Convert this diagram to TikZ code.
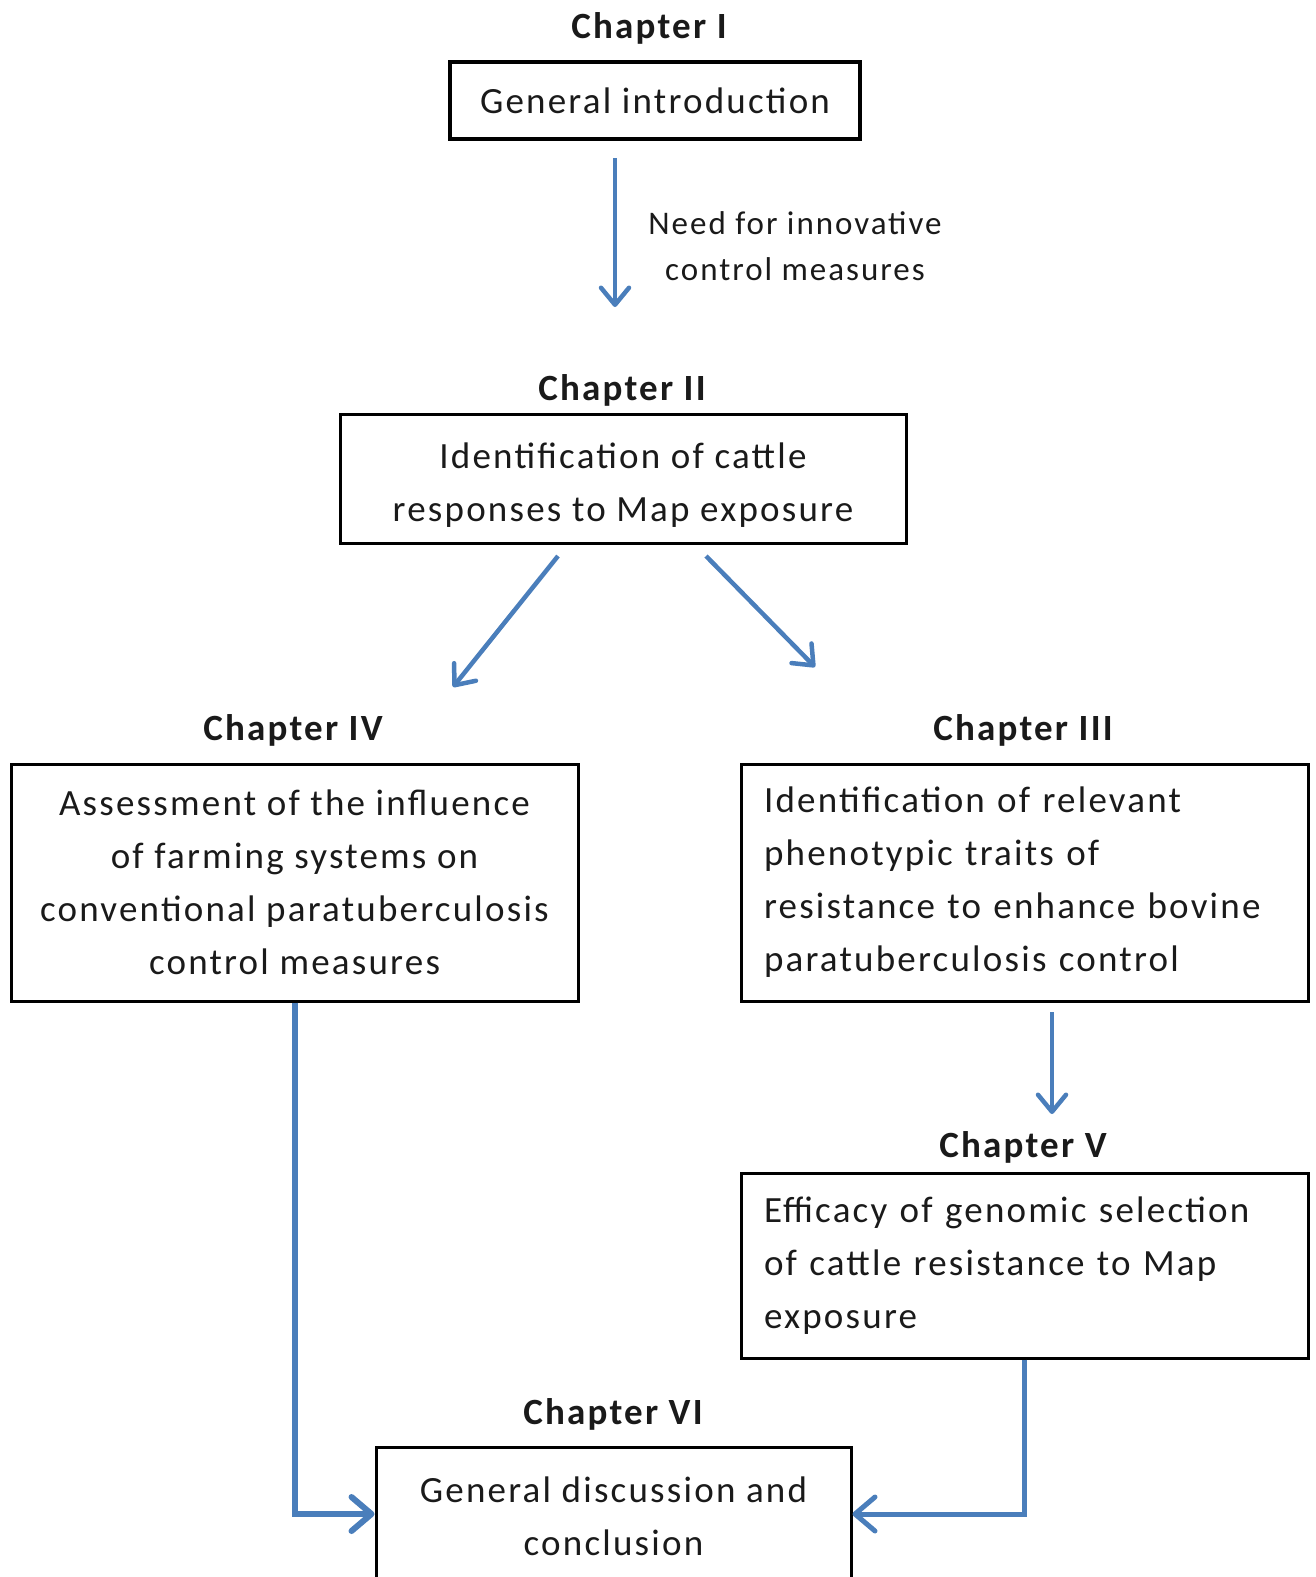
\documentclass[tikz,border=0pt]{standalone}
\usepackage{fontspec}
\setmainfont[LetterSpace=6]{Carlito}
\usetikzlibrary{arrows.meta,calc}
\definecolor{arrowblue}{HTML}{4A7EBB}
\definecolor{ink}{HTML}{1A1A1A}

\begin{document}
\begin{tikzpicture}[x=1pt,y=-1pt,
  every node/.style={text=ink},
  boxtext/.style={font=\fontsize{37}{53}\selectfont},
  chapbox/.style={draw=black, line width=3pt, inner sep=0pt, boxtext},
  heading/.style={font=\fontsize{37}{44}\selectfont\bfseries, anchor=base},
  flow/.style={draw=arrowblue, line width=4.5pt,
    -{Straight Barb[length=17pt,width=28pt,round]}},
  bigflow/.style={flow, line width=6pt,
    -{Straight Barb[length=20pt,width=34pt,round]}},
]
\useasboundingbox (0,0) rectangle (1316,1577);
\clip (0,0) rectangle (1316,1577);

% Chapter I
\node[heading] (h1) at (649,38) {Chapter I};
\node[chapbox, line width=4.5pt, minimum width=410pt, minimum height=77pt]
  (b1) at (655,100.5) {General introduction};

% Chapter II
\node[heading] (h2) at (622,400) {Chapter II};
\node[chapbox, minimum width=566pt, minimum height=129pt, align=center]
  (b2) at (623,478.5) {\rule{0pt}{38pt}Identification of cattle\\responses to Map exposure};

% Chapter IV
\node[heading] (h4) at (293,740) {Chapter IV};
\node[chapbox, minimum width=567pt, minimum height=237pt, align=center]
  (b4) at (294.5,882.5) {Assessment of the influence\\of farming systems on\\conventional paratuberculosis\\control measures};

% Chapter III
\node[heading] (h3) at (1023,740) {Chapter III};
\node[chapbox, minimum width=567pt, minimum height=237pt, text width=521pt, align=left]
  (b3) at (1024.5,882.5) {Identification of relevant\\phenotypic traits of\\resistance to enhance bovine\\paratuberculosis control};

% Chapter V
\node[heading] (h5) at (1023,1157) {Chapter V};
\node[chapbox, minimum width=567pt, minimum height=185pt, text width=521pt, align=left]
  (b5) at (1024.5,1265.5) {Efficacy of genomic selection\\of cattle resistance to Map\\exposure};

% Chapter VI (box runs past the lower edge)
\node[heading] (h6) at (613,1424) {Chapter VI};
\node[chapbox, minimum width=475pt, minimum height=138pt, align=center]
  (b6) at (613.5,1516) {General discussion and\\conclusion};

% Free ends of the short arrows
\coordinate (a1s) at (615,158);
\coordinate (a1e) at (615,307);
\coordinate (a2s) at (558,556);
\coordinate (a2e) at (453,687);
\coordinate (a3s) at (706,556);
\coordinate (a3e) at (815,667);
\coordinate (a4s) at (1052,1012);
\coordinate (a4e) at (1052,1114);

\draw[flow] (a1s) -- (a1e);
\node[font=\fontsize{33}{46}\selectfont, align=center] (need) at (795,246)
  {Need for innovative\\control measures};

\draw[flow] (a2s) -- (a2e);
\draw[flow] (a3s) -- (a3e);
\draw[flow] (a4s) -- (a4e);

% Elbow connectors into the final chapter
\draw[bigflow] (b4.south) |- ([yshift=2pt]b6.west);
\draw[bigflow, line width=5pt] (b5.south) |- ([yshift=2pt]b6.east);
\end{tikzpicture}
\end{document}
